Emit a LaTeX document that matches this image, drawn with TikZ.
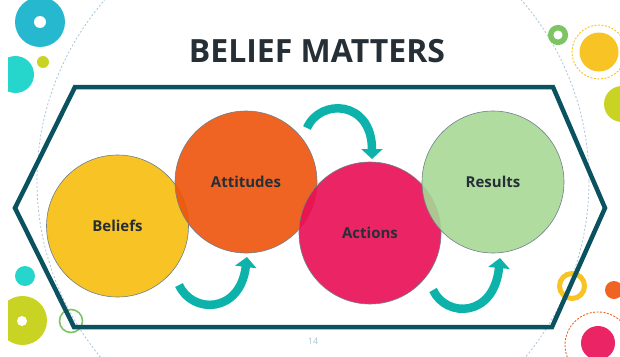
\documentclass[tikz,border=0pt]{standalone}
\usepackage{fontspec}
\setmainfont{Open Sans}
\usepackage{xcolor}
\usetikzlibrary{arrows.meta}

\definecolor{hexline}{HTML}{0B5260}
\definecolor{sunny}{HTML}{F7C325}
\definecolor{tangerine}{HTML}{F06423}
\definecolor{rosered}{HTML}{EB2565}
\definecolor{mintgreen}{HTML}{B0DCA0}
\definecolor{sunnyfill}{HTML}{F6BC0D}
\definecolor{tangerinefill}{HTML}{EE530B}
\definecolor{roseredfill}{HTML}{E90D54}
\definecolor{mintfill}{HTML}{A7D896}
\definecolor{arrowteal}{HTML}{0DB3AA}
\definecolor{ringgreen}{HTML}{7DC462}
\definecolor{limey}{HTML}{C8D324}
\definecolor{skyteal}{HTML}{26B8CF}
\definecolor{aqua}{HTML}{26D6CC}
\definecolor{dashblue}{HTML}{A9C4D4}
\definecolor{inkgray}{HTML}{262F36}
\definecolor{edgegray}{HTML}{6F7F8C}

\begin{document}
\begin{tikzpicture}[x=1pt, y=-1pt,
    stage/.style={circle, draw=edgegray, line width=0.6pt, fill opacity=0.9, text opacity=1,
        minimum size=142pt, inner sep=0pt, text=inkgray, font=\fontsize{15}{18}\selectfont\bfseries},
    turn/.style={arrowteal, line width=8.5pt, -{Triangle[width=21pt,length=10pt]}}]
    \useasboundingbox (0,0) rectangle (620,356);

    % background dots and rings
    \begin{scope}
        \clip (8,0) rectangle (620,356);
        \draw[dashblue, line width=0.8pt, dash pattern=on 2pt off 2pt] (313,181) circle[radius=276];
        \fill[skyteal] (40,22) circle[radius=25];
        \fill[white] (40,22) circle[radius=6];
        \fill[aqua] (15.5,74.5) circle[radius=18.5];
        \fill[limey] (43,62) circle[radius=6];
        \fill[aqua] (25,276) circle[radius=10];
        \fill[limey] (22.5,320.5) circle[radius=24.5];
        \fill[white] (22,321) circle[radius=5];
        \draw[ringgreen, line width=1.6pt] (71,321) circle[radius=11.5];
        \draw[ringgreen, line width=5.5pt] (558,35) circle[radius=7.3];
        \fill[sunny] (599,52) circle[radius=19.5];
        \draw[sunny, line width=0.9pt, dash pattern=on 2pt off 1.5pt] (599,52) circle[radius=27];
        \fill[limey] (622,104) circle[radius=18];
        \draw[sunny, line width=5pt] (572,286) circle[radius=12.5];
        \fill[tangerine] (614,290) circle[radius=9];
        \fill[rosered] (598,343) circle[radius=17];
        \draw[tangerine, line width=0.9pt, dash pattern=on 2pt off 1.5pt] (598,345) circle[radius=33];
    \end{scope}

    % frame
    \draw[hexline, line width=4.5pt, line join=miter]
        (75,87) -- (553,87) -- (605,208) -- (552,327) -- (74,327) -- (15,208) -- cycle;

    \node[font=\fontsize{32}{36}\selectfont\bfseries, text=inkgray] (title) at (317,51) {BELIEF MATTERS};

    \node[stage, fill=sunnyfill] (beliefs) at (117.5,226) {Beliefs};
    \node[stage, fill=tangerinefill] (attitudes) at (246,182) {Attitudes};
    \node[stage, fill=roseredfill] (actions) at (370,233) {Actions};
    \node[stage, fill=mintfill] (results) at (493,182) {Results};

    % curved arrows
    \coordinate (ba-tail) at (179,285);
    \coordinate (ba-head) at (247,257);
    \coordinate (at-tail) at (307,128);
    \coordinate (at-head) at (372,159);
    \coordinate (ar-tail) at (433,290);
    \coordinate (ar-head) at (500,258);
    \draw[turn] (ba-tail) .. controls (192,314) and (240,314) .. (ba-head);
    \draw[turn] (at-tail) .. controls (320,98) and (372,100) .. (at-head);
    \draw[turn] (ar-tail) .. controls (446,318) and (494,318) .. (ar-head);

    \node[text=dashblue, font=\fontsize{9}{10}\selectfont] (pagenum) at (313,341) {14};
\end{tikzpicture}
\end{document}
